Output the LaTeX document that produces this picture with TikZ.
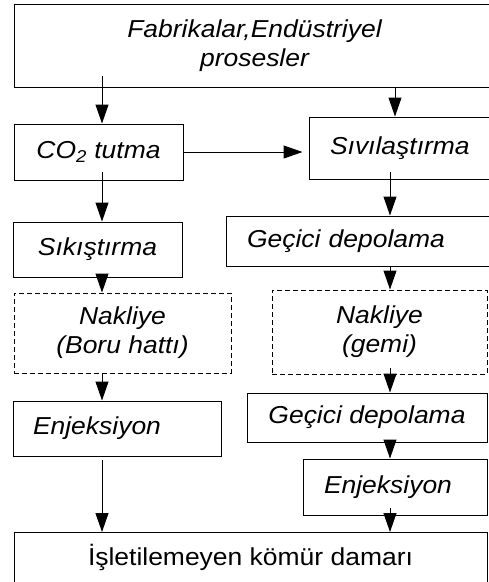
\documentclass[tikz,border=0pt]{standalone}
\usepackage{fontspec}
\setmainfont{Liberation Sans}[FakeStretch=1.08]
\usepackage{tikz}
\usetikzlibrary{arrows.meta, calc}
\tikzset{
	box/.style={
		draw,
		rectangle,
		line width=1pt,
		inner sep=0pt,
		font=\fontsize{24.5}{29}\selectfont\itshape
	},
	lbox/.style={
		box,
		align=left,
		inner xsep=21pt
	}
}

\begin{document}
\begin{tikzpicture}[x=1pt, y=-1pt]
	\tikzset{trans/.style={box, dash pattern=on 5pt off 3pt, align=center}}
	\tikzset{edge/.style={-{Triangle[length=19pt, width=13pt]}, line width=1pt}}
	\clip (0,0) rectangle (489,582);
	
	\coordinate(lc) at (102,0);
	\coordinate(rt) at (395,0);
	\coordinate(rc) at (390,0);
	
	\node(top) at (254.5,45.5) [box, align=center, minimum width=481pt, minimum height=83pt] {Fabrikalar,Endüstriyel\\prosesler};
	\node(co2) at (98.5,152) [box, minimum width=169pt, minimum height=56pt] {CO\textsubscript{2} tutma};
	\node(siv) at (402,148) [lbox, text width=144pt, minimum height=62pt] {Sıvılaştırma};
	
	\node(sik) at (97.5,249.5) [box, minimum width=169pt, minimum height=55pt] {Sıkıştırma};
	\node(gec1) at (360.5,241) [lbox, text width=227pt, minimum height=50pt] {Geçici depolama};
	
	\node(nak1) at (122.5,333) [trans, minimum width=217pt, minimum height=80pt] {Nakliye\\(Boru hattı)};
	\node(nak2) at (379.5,332) [trans, minimum width=215pt, minimum height=84pt] {Nakliye\\(gemi)};
	
	\node(enj1) at (117,428.5) [lbox, inner xsep=20pt, text width=168pt, minimum height=55pt] {Enjeksiyon};
	\node(gec2) at (367,417.5) [box, minimum width=240pt, minimum height=49pt] {Geçici depolama};
	\node(enj2) at (395,487) [lbox, text width=142pt, minimum height=56pt] {Enjeksiyon};
	
	\node(bot) at (250.5,532) [box, anchor=north, font=\fontsize{24.5}{29}\selectfont, minimum width=473pt, text height=33pt, text depth=40pt] {İşletilemeyen kömür damarı};
	
	% left line
	\draw[edge]([yshift=12pt]top.south -| lc) -- (co2.north -| lc);
	\draw[edge]([yshift=9pt]co2.south -| lc) -- (sik.north -| lc);
	\draw[edge](sik.south -| lc) -- (nak1.north -| lc);
	\draw[edge](nak1.south -| lc) -- (enj1.north -| lc);
	\draw[edge]([yshift=-3pt]enj1.south -| lc) -- (bot.north -| lc);
	
	% right line
	\draw[edge](top.south -| rt) -- (siv.north -| rt);
	\draw[edge](co2.east) -- ([xshift=-6pt]siv.west |- co2.east);
	\draw[edge]([yshift=8pt]siv.south -| rc) -- (gec1.north -| rc);
	\draw[edge](gec1.south -| rc) -- (nak2.north -| rc);
	\draw[edge]([yshift=7pt]nak2.south -| rc) -- (gec2.north -| rc);
	\draw[edge](gec2.south -| rc) -- (enj2.north -| rc);
	\draw[edge]([yshift=8pt]enj2.south -| rc) -- (bot.north -| rc);
	
\end{tikzpicture}
\end{document}
